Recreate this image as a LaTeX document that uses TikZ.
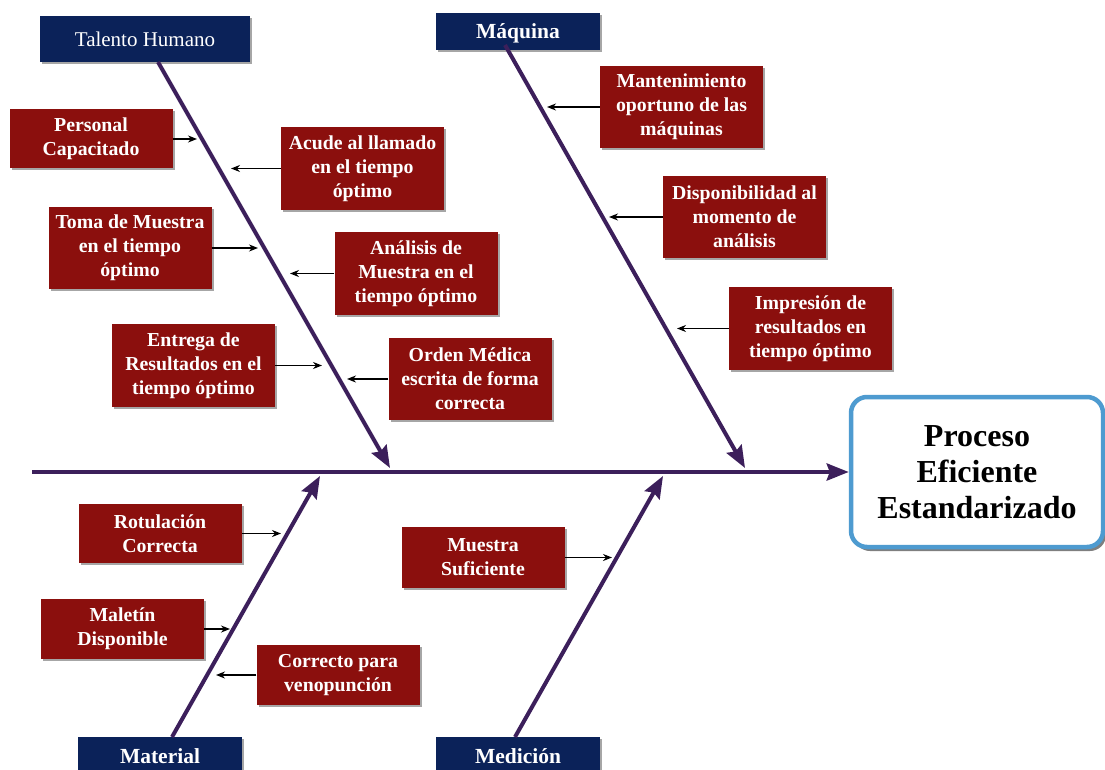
\documentclass[tikz,border=0pt]{standalone}
\usepackage{fontspec}
\setmainfont{Liberation Serif}
\usetikzlibrary{arrows.meta,shadows}

\definecolor{causered}{HTML}{8B0F0D}
\definecolor{catnavy}{HTML}{0B2259}
\definecolor{bonecol}{HTML}{3C1F5B}
\definecolor{effblue}{HTML}{4E9BD0}

\tikzset{
  softshadow/.style={drop shadow={shadow xshift=2pt, shadow yshift=-2pt, opacity=0.35, fill=black}},
  cause/.style={fill=causered, text=white, align=center, inner sep=0pt,
    minimum width=163pt, font=\bfseries\fontsize{19.8}{24}\selectfont, softshadow,
    execute at begin node={\rule{0pt}{23.5pt}}},
  catbox/.style={fill=catnavy, text=white, inner sep=0pt, minimum width=164pt,
    minimum height=37pt, font=\bfseries\fontsize{21.5}{24}\selectfont, softshadow,
    text height=17pt, text depth=2pt},
  bonearrow/.style={draw=bonecol, line width=4pt, -{Stealth[length=22pt,width=17pt,inset=3pt]}},
  pointer/.style={draw=black, line width=1.5pt, -{Stealth[length=9pt,width=7pt]}},
  effect/.style={draw=effblue, line width=4.5pt, fill=white, rounded corners=16pt,
    minimum width=252pt, minimum height=150pt, align=center,
    font=\bfseries\fontsize{32}{36}\selectfont,
    drop shadow={shadow xshift=3pt, shadow yshift=-4pt, opacity=0.5, fill=black}}
}

\begin{document}
\begin{tikzpicture}[x=1pt, y=-1pt]
\clip (0,0) rectangle (1105,770);
\fill[white] (0,0) rectangle (1105,770);

% category headers
\node[catbox, minimum width=210pt, minimum height=46pt,
      font=\fontsize{21}{24}\selectfont] (th) at (145,39) {Talento Humano};
\node[catbox] (mq) at (518,31.5) {Máquina};
\node[catbox] (mt) at (160,755.5) {Material};
\node[catbox] (md) at (518,755.5) {Medición};

% effect
\node[effect] (ef) at (977,472) {Proceso\\Eficiente\\Estandarizado};

% bone end points
\coordinate (thA) at (158,62);   \coordinate (thB) at (390,468);
\coordinate (mqA) at (505,45);   \coordinate (mqB) at (745,468);
\coordinate (mtA) at (172,737);  \coordinate (mtB) at (320,476);
\coordinate (mdA) at (515,737);  \coordinate (mdB) at (663,476);
\coordinate (sp)  at (32,472);

% spine and bones
\draw[bonearrow] (sp) -- (ef.west);
\draw[bonearrow] (thA) -- (thB);
\draw[bonearrow] (mqA) -- (mqB);
\draw[bonearrow] (mtA) -- (mtB);
\draw[bonearrow] (mdA) -- (mdB);

% causes
\node[cause, minimum height=59pt] (c1) at (91,139) {Personal\\Capacitado};
\node[cause, minimum height=83pt] (c2) at (362.5,168.5) {Acude al llamado\\en el tiempo\\óptimo};
\node[cause, minimum height=82pt] (c3) at (130,248) {Toma de Muestra\\en el tiempo\\óptimo};
\node[cause, minimum height=83pt] (c4) at (416,273.5) {Análisis de\\Muestra en el\\tiempo óptimo};
\node[cause, minimum height=83pt] (c5) at (193.5,365.5) {Entrega de\\Resultados en el\\tiempo óptimo};
\node[cause, minimum height=82pt] (c6) at (470,379) {Orden Médica\\escrita de forma\\correcta};
\node[cause, minimum height=82pt] (c7) at (681.5,107) {Mantenimiento\\oportuno de las\\máquinas};
\node[cause, minimum height=82pt] (c8) at (744.5,217) {Disponibilidad al\\momento de\\análisis};
\node[cause, minimum height=83pt] (c9) at (810.5,328.5) {Impresión de\\resultados en\\tiempo óptimo};
\node[cause, minimum height=59pt] (c10) at (160,533.5) {Rotulación\\Correcta};
\node[cause, minimum height=60pt] (c11) at (122.5,629) {Maletín\\Disponible};
\node[cause, minimum height=60pt] (c12) at (338,675) {Correcto para\\venopunción};
\node[cause, minimum height=61pt] (c13) at (483,557.5) {Muestra\\Suficiente};

% pointer targets on the bones
\coordinate (p1) at (197,139);
\coordinate (p2) at (231,168.5);
\coordinate (p3) at (258,248);
\coordinate (p4) at (290,273.5);
\coordinate (p5) at (322,365.5);
\coordinate (p6) at (347,379);
\coordinate (p7) at (547,107);
\coordinate (p8) at (609,217);
\coordinate (p9) at (677,328.5);
\coordinate (p10) at (281,533.5);
\coordinate (p11) at (230,629);
\coordinate (p12) at (216,675);
\coordinate (p13) at (612,557.5);

\foreach \i in {1,...,13} \draw[pointer] (c\i) -- (p\i);
\end{tikzpicture}
\end{document}
